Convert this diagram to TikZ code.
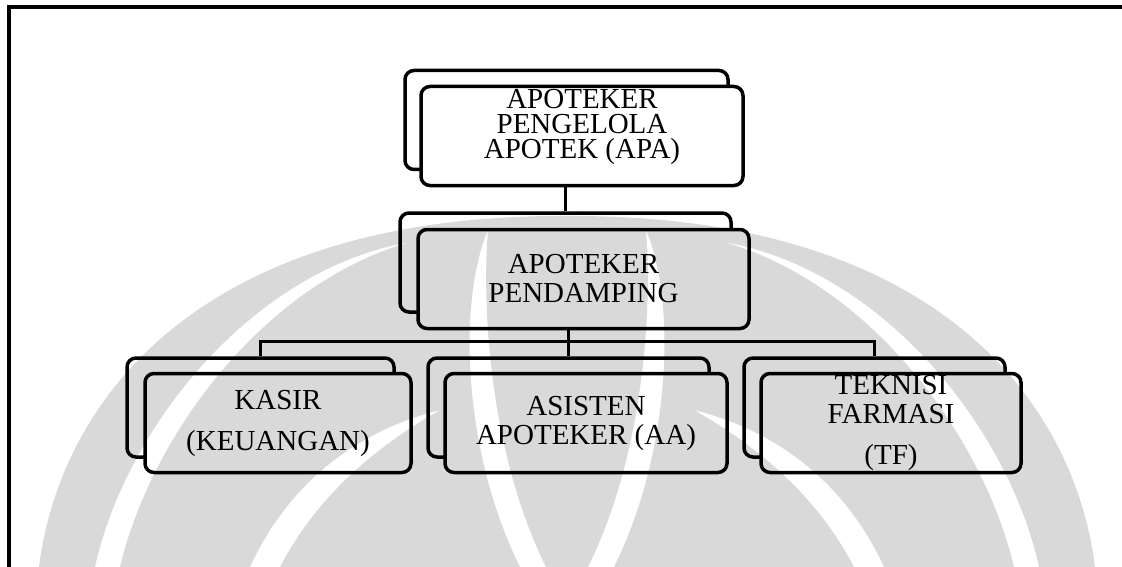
\documentclass[tikz,border=0pt]{standalone}
\usepackage{fontspec}
\setmainfont{Liberation Serif}
\usetikzlibrary{positioning}

\tikzset{
    unitbox/.style={draw, line width=3.5pt, rounded corners=9pt, fill=white,
        inner sep=0pt, minimum height=99pt, align=center,
        font=\fontsize{29}{29}\selectfont},
    shadowbox/.style={unitbox, fill=white},
    unittext/.style={inner sep=0pt, align=center, font=\fontsize{29}{25}\selectfont},
    link/.style={line width=3.5pt}
}

\begin{document}
\begin{tikzpicture}[x=1pt, y=-1pt]
        \useasboundingbox (0,0) rectangle (1122,567);

        % page frame (only top and left are printed)
        \draw[line width=3.5pt] (9,567) -- (9,7) -- (1122,7);

        % Apoteker pengelola
        \node[shadowbox, minimum width=323pt] (apaB) at (566.5,120) {};
        \node[unitbox, minimum width=322pt] (apa) at (582,136) {};
        \node[unittext] (apaText) at (582,127) {APOTEKER\\PENGELOLA\\APOTEK (APA)};

        % Apoteker pendamping
        \node[shadowbox, minimum width=331pt] (pdB) at (565.5,262.5) {};
        \node[unitbox, minimum width=331pt] (pd) at (583.5,279)
            {APOTEKER\\PENDAMPING};

        % Staff
        \node[shadowbox, minimum width=267pt] (kaB) at (260.5,407.5) {};
        \node[unitbox, minimum width=266pt] (ka) at (278,423)
            {KASIR\\[12pt](KEUANGAN)};

        \node[shadowbox, minimum width=281pt] (asB) at (568.5,407.5) {};
        \node[unitbox, minimum width=282pt] (as) at (586,423)
            {ASISTEN\\APOTEKER (AA)};

        \node[shadowbox, minimum width=261pt] (tfB) at (874.5,407.5) {};
        \node[unitbox, minimum width=260pt] (tf) at (891,423)
            {TEKNISI\\FARMASI\\[12pt](TF)};

        % Lines between the units
        \draw[link] (pdB.north |- apa.south) -- (pdB.north);
        \draw[link] (asB.north |- pd.south) -- (asB.north);
        \draw[link] (kaB.north) -- ++(0,-15) -| (tfB.north);

        % faint watermark laid over the chart (gaps cut out by even odd rule)
        \def\markOpacity{0.15}
        \fill[black, fill opacity=\markOpacity, even odd rule]
            % outline
            (39,567) .. controls (60,400) and (200,214) .. (567,216)
                .. controls (934,214) and (1074,400) .. (1095,567) -- cycle
            % outer gaps
            (95,567) .. controls (125,430) and (250,270) .. (410,242)
                .. controls (260,285) and (150,440) .. (120,567) -- cycle
            (1039,567) .. controls (1009,430) and (884,270) .. (724,242)
                .. controls (874,285) and (984,440) .. (1014,567) -- cycle
            % gaps beside the middle leaf
            (488,230) .. controls (458,300) and (462,450) .. (520,567)
                -- (546,567) .. controls (488,450) and (482,300) .. (488,230) -- cycle
            (646,230) .. controls (676,300) and (672,450) .. (614,567)
                -- (588,567) .. controls (646,450) and (652,300) .. (646,230) -- cycle
            % lower wing gaps
            (250,567) .. controls (290,480) and (360,430) .. (440,410)
                .. controls (370,450) and (315,500) .. (280,567) -- cycle
            (884,567) .. controls (844,480) and (774,430) .. (694,410)
                .. controls (764,450) and (819,500) .. (854,567) -- cycle;

\end{tikzpicture}
\end{document}
